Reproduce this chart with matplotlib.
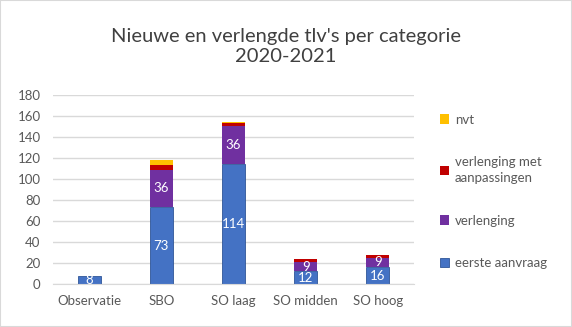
import matplotlib
matplotlib.use("Agg")
import matplotlib.pyplot as plt
import numpy as np
from matplotlib.patches import Rectangle

plt.rcParams["font.family"] = ["Lato", "DejaVu Sans"]

# --- Data -----------------------------------------------------------------
categories = ["Observatie", "SBO", "SO laag", "SO midden", "SO hoog"]
eerste_aanvraag = [8, 73, 114, 12, 16]
verlenging = [0, 36, 36, 9, 9]
verlenging_met_aanpassingen = [0, 4, 3, 3, 3]
nvt = [0, 5, 1, 0, 0]

series = [
    ("eerste aanvraag", eerste_aanvraag, "#4472C4", True),
    ("verlenging", verlenging, "#7030A0", True),
    ("verlenging met\naanpassingen", verlenging_met_aanpassingen, "#C00000", False),
    ("nvt", nvt, "#FFC000", False),
]

TEXT = "#595959"

fig = plt.figure(figsize=(5.72, 3.27), dpi=100)
fig.patches.append(Rectangle((0, 0), 1, 1, transform=fig.transFigure,
                             fill=False, edgecolor="#D9D9D9", linewidth=1.5))
ax = fig.add_axes([0.0927, 0.1315, 0.6311, 0.578])

x = np.arange(len(categories))
bottom = np.zeros(len(categories))
handles = []
for label, vals, color, show in series:
    vals = np.array(vals, dtype=float)
    is_blue = color == "#4472C4"
    bars = ax.bar(x, vals, width=0.32, bottom=bottom, color=color,
                  edgecolor="#2F5597" if is_blue else "none",
                  linewidth=0.6 if is_blue else 0, label=label, zorder=2)
    handles.append(bars)
    if show:
        for xi, b, v in zip(x, bottom, vals):
            if v > 0:
                ax.text(xi, b + v / 2, f"{int(v)}", ha="center", va="center",
                        color="white", fontsize=9.5, zorder=3)
    bottom += vals

ax.set_xlim(-0.5, len(categories) - 0.5)
ax.set_ylim(0, 180)
ax.set_yticks(np.arange(0, 181, 20))
ax.set_xticks(x)
ax.set_xticklabels(categories)
ax.grid(axis="y", color="#D9D9D9", linewidth=1, zorder=0)
ax.tick_params(axis="both", length=0, colors=TEXT, labelsize=9.5)
ax.tick_params(axis="x", pad=8)
ax.tick_params(axis="y", pad=9)
for side in ["left", "right", "top"]:
    ax.spines[side].set_visible(False)
ax.spines["bottom"].set_color("#D9D9D9")

fig.text(0.5, 0.858, "Nieuwe en verlengde tlv's per categorie\n2020-2021",
         ha="center", va="center", fontsize=14.5, color="#404040",
         linespacing=1.2)

leg = ax.legend(handles[::-1], [s[0] for s in series][::-1],
                loc="upper left", bbox_to_anchor=(1.058, 0.93),
                frameon=False, fontsize=9.5, labelspacing=2.3,
                handlelength=0.7, handleheight=0.7, handletextpad=0.4,
                borderaxespad=0)
for t in leg.get_texts():
    t.set_color(TEXT)
    t.set_linespacing(1.45)

fig.savefig("out.png", dpi=100)
